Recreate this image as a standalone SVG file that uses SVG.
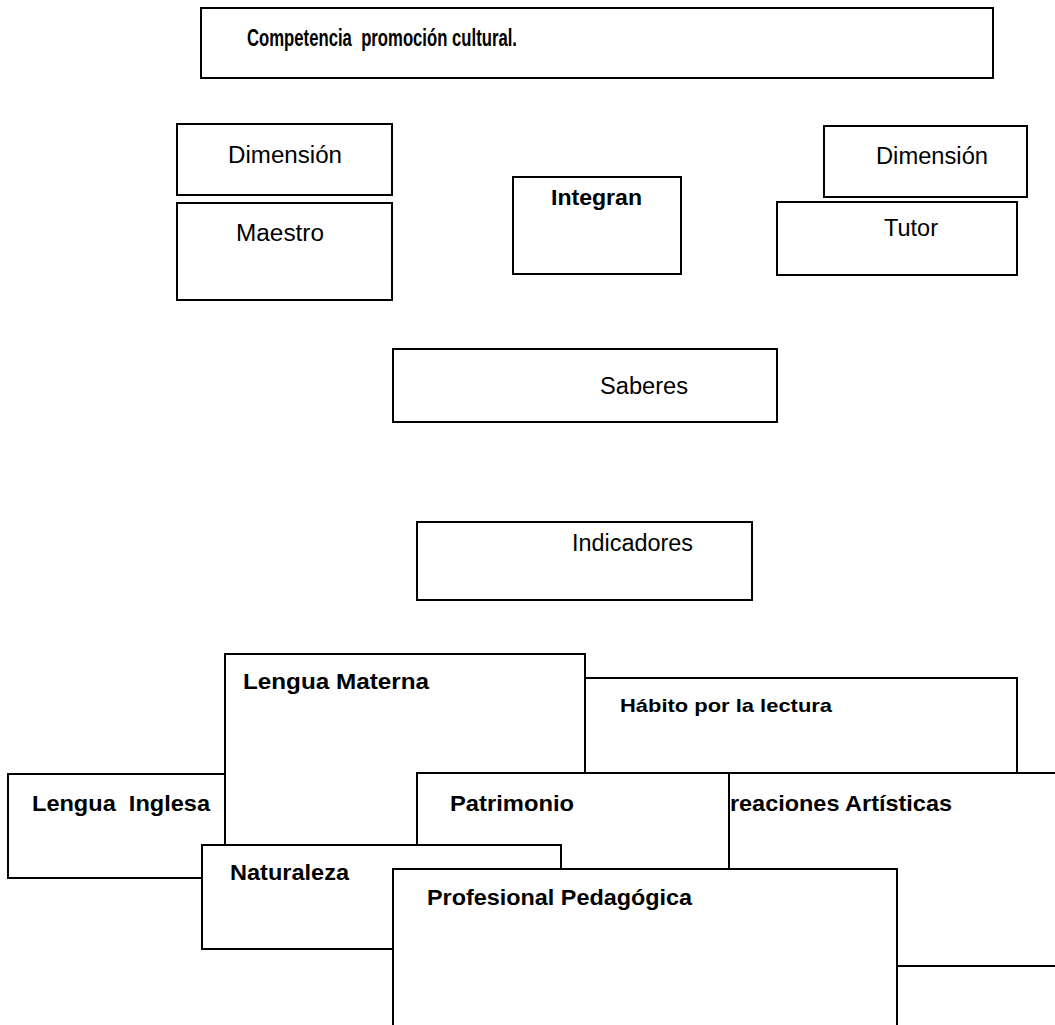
<svg xmlns="http://www.w3.org/2000/svg" width="1055" height="1025" viewBox="0 0 1055 1025">
<style>
  .box { fill: #ffffff; stroke: #000000; stroke-width: 2; }
  text { white-space: pre; }
  .t { font-family: "Liberation Sans", Arial, sans-serif; font-size: 23px; fill: #000000; }
  .b { font-family: "Liberation Sans", Arial, sans-serif; font-size: 22px; font-weight: bold; fill: #000000; }
  .s { font-family: "Liberation Sans", Arial, sans-serif; font-size: 19px; font-weight: bold; fill: #000000; }
  .h { font-family: "Liberation Sans", Arial, sans-serif; font-size: 24px; font-weight: bold; fill: #000000; }
</style>
<rect width="1055" height="1025" fill="#ffffff"/>
<g id="competencia">
  <rect class="box" x="201" y="8" width="792" height="70"/>
  <text class="h" x="247" y="46" textLength="270" lengthAdjust="spacingAndGlyphs" xml:space="preserve">Competencia  promoción cultural.</text>
</g>
<g id="dimension-maestro">
  <rect class="box" x="177" y="124" width="215" height="71"/>
  <text class="t" x="228" y="163" textLength="114" lengthAdjust="spacingAndGlyphs">Dimensión</text>
</g>
<g id="maestro">
  <rect class="box" x="177" y="203" width="215" height="97"/>
  <text class="t" x="236" y="241" textLength="88" lengthAdjust="spacingAndGlyphs">Maestro</text>
</g>
<g id="integran">
  <rect class="box" x="513" y="177" width="168" height="97"/>
  <text class="b" x="551" y="205" textLength="91" lengthAdjust="spacingAndGlyphs">Integran</text>
</g>
<g id="dimension-tutor">
  <rect class="box" x="824" y="126" width="203" height="71"/>
  <text class="t" x="876" y="164" textLength="112" lengthAdjust="spacingAndGlyphs">Dimensión</text>
</g>
<g id="tutor">
  <rect class="box" x="777" y="202" width="240" height="73"/>
  <text class="t" x="884" y="236" textLength="54" lengthAdjust="spacingAndGlyphs">Tutor</text>
</g>
<g id="saberes">
  <rect class="box" x="393" y="349" width="384" height="73"/>
  <text class="t" x="600" y="394" textLength="88" lengthAdjust="spacingAndGlyphs">Saberes</text>
</g>
<g id="indicadores">
  <rect class="box" x="417" y="522" width="335" height="78"/>
  <text class="t" x="572" y="551" textLength="121" lengthAdjust="spacingAndGlyphs">Indicadores</text>
</g>
<g id="lengua-inglesa">
  <rect class="box" x="8" y="774" width="230" height="104"/>
  <text class="b" x="32" y="811" textLength="178" lengthAdjust="spacingAndGlyphs" xml:space="preserve">Lengua  Inglesa</text>
</g>
<g id="habito">
  <rect class="box" x="585" y="678" width="432" height="130"/>
  <text class="s" x="620" y="712" textLength="212" lengthAdjust="spacingAndGlyphs">Hábito por la lectura</text>
</g>
<g id="lengua-materna">
  <rect class="box" x="225" y="654" width="360" height="250"/>
  <text class="b" x="243" y="689" textLength="186" lengthAdjust="spacingAndGlyphs">Lengua Materna</text>
</g>
<g id="creaciones">
  <rect class="box" x="700" y="773" width="365" height="193"/>
  <text class="b" x="713" y="811" textLength="239" lengthAdjust="spacingAndGlyphs">Creaciones Artísticas</text>
</g>
<g id="patrimonio">
  <rect class="box" x="417" y="773" width="312" height="130"/>
  <text class="b" x="450" y="811" textLength="124" lengthAdjust="spacingAndGlyphs">Patrimonio</text>
</g>
<g id="naturaleza">
  <rect class="box" x="202" y="845" width="359" height="104"/>
  <text class="b" x="230" y="880" textLength="119" lengthAdjust="spacingAndGlyphs">Naturaleza</text>
</g>
<g id="profesional">
  <rect class="box" x="393" y="869" width="504" height="170"/>
  <text class="b" x="427" y="905" textLength="265" lengthAdjust="spacingAndGlyphs">Profesional Pedagógica</text>
</g>
<g id="connectors"></g>
</svg>
